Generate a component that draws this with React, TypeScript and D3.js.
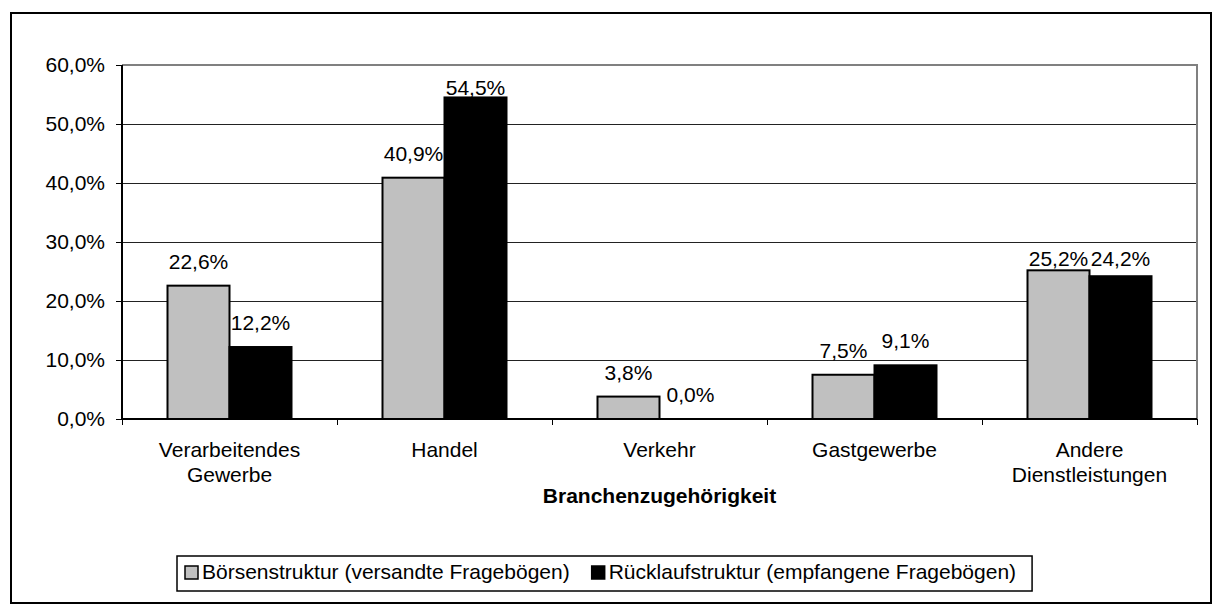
import React, { useRef, useEffect } from 'react';
import * as d3 from 'd3';

const categories = [['Verarbeitendes', 'Gewerbe'], ['Handel'], ['Verkehr'], ['Gastgewerbe'], ['Andere', 'Dienstleistungen']];
const versandt = [22.6, 40.9, 3.8, 7.5, 25.2];
const ruecklauf = [12.2, 54.5, 0.0, 9.1, 24.2];
const seriesNames = ['Börsenstruktur (versandte Fragebögen)', 'Rücklaufstruktur (empfangene Fragebögen)'];
const seriesColors = ['#c0c0c0', '#000000'];
const yTicks = [0, 10, 20, 30, 40, 50, 60];
const axisTitle = 'Branchenzugehörigkeit';

const W = 1218;
const H = 608;
const FONT = 'Liberation Sans, Arial, sans-serif';

const fmt = (v: number) => v.toFixed(1).replace('.', ',') + '%';

const App = () => {
  const svgRef = useRef<SVGSVGElement>(null);

  useEffect(() => {
    const svg = d3.select(svgRef.current);
    svg.selectAll('*').remove();

    const left = 122, right = 1197, top = 65, bottom = 419;

    // outer frame
    svg.append('rect')
      .attr('x', 11).attr('y', 13).attr('width', 1200).attr('height', 590)
      .attr('fill', 'white').attr('stroke', '#000').attr('stroke-width', 2);

    const x = d3.scaleBand<number>()
      .domain(categories.map((_, i) => i))
      .range([left, right]);
    const groupW = 124;
    const sub = d3.scaleBand<number>().domain([0, 1]).range([0, groupW]);
    const y = d3.scaleLinear().domain([0, 60]).range([bottom, top]);

    // gridlines
    svg.append('g').selectAll('line')
      .data(yTicks.filter(t => t > 0 && t < 60))
      .enter().append('line')
      .attr('x1', left).attr('x2', right)
      .attr('y1', d => Math.round(y(d)) + 0.5).attr('y2', d => Math.round(y(d)) + 0.5)
      .attr('stroke', '#222').attr('stroke-width', 1);

    // plot area border (top / right gray)
    svg.append('path')
      .attr('d', `M${left},${top}H${right}V${bottom}`)
      .attr('fill', 'none').attr('stroke', '#808080').attr('stroke-width', 2);

    // bars
    const series = [versandt, ruecklauf];
    series.forEach((vals, s) => {
      svg.append('g').selectAll('rect')
        .data(vals)
        .enter().append('rect')
        .attr('x', (d, i) => (x(i) as number) + (x.bandwidth() - groupW) / 2 + (sub(s) as number))
        .attr('y', d => y(d))
        .attr('width', sub.bandwidth())
        .attr('height', d => bottom - y(d))
        .attr('fill', seriesColors[s])
        .attr('stroke', '#000')
        .attr('stroke-width', d => (d > 0 ? 2 : 0));
    });

    // data labels
    series.forEach((vals, s) => {
      svg.append('g').selectAll('text')
        .data(vals)
        .enter().append('text')
        .attr('x', (d, i) => (x(i) as number) + (x.bandwidth() - groupW) / 2 + (sub(s) as number) + sub.bandwidth() / 2)
        .attr('y', (d, i) => {
          if (i === categories.length - 1) return Math.min(y(versandt[i]), y(ruecklauf[i])) - 4;
          let b = y(d) - 17;
          if (b < top + 28) b = y(d) - 2;
          return b;
        })
        .attr('text-anchor', 'middle')
        .attr('font-family', FONT).attr('font-size', 21)
        .text(d => fmt(d));
    });

    // y axis
    svg.append('line')
      .attr('x1', left).attr('x2', left).attr('y1', top).attr('y2', bottom)
      .attr('stroke', '#000').attr('stroke-width', 2);
    const yt = svg.append('g').selectAll('g').data(yTicks).enter().append('g');
    yt.append('line')
      .attr('x1', left - 6).attr('x2', left)
      .attr('y1', d => Math.round(y(d)) + 0.5).attr('y2', d => Math.round(y(d)) + 0.5)
      .attr('stroke', '#000').attr('stroke-width', 1);
    yt.append('text')
      .attr('x', 105).attr('y', d => y(d) + 7)
      .attr('text-anchor', 'end')
      .attr('font-family', FONT).attr('font-size', 21)
      .text(d => fmt(d));

    // x axis
    svg.append('line')
      .attr('x1', left).attr('x2', right).attr('y1', bottom).attr('y2', bottom)
      .attr('stroke', '#000').attr('stroke-width', 2);
    svg.append('g').selectAll('line')
      .data(d3.range(categories.length + 1))
      .enter().append('line')
      .attr('x1', i => Math.round(left + i * x.step()) + 0.5).attr('x2', i => Math.round(left + i * x.step()) + 0.5)
      .attr('y1', bottom).attr('y2', bottom + 6)
      .attr('stroke', '#000').attr('stroke-width', 1);

    const cl = svg.append('g').selectAll('text').data(categories).enter().append('text')
      .attr('text-anchor', 'middle')
      .attr('font-family', FONT).attr('font-size', 21);
    cl.each(function (lines, i) {
      const t = d3.select(this);
      lines.forEach((ln, k) => {
        t.append('tspan')
          .attr('x', (x(i) as number) + x.bandwidth() / 2)
          .attr('y', 457 + k * 24.5)
          .text(ln);
      });
    });

    svg.append('text')
      .attr('x', (left + right) / 2).attr('y', 503)
      .attr('text-anchor', 'middle')
      .attr('font-family', FONT).attr('font-size', 21).attr('font-weight', 'bold')
      .text(axisTitle);

    // legend
    const lg = svg.append('g');
    const box = lg.append('rect')
      .attr('y', 556).attr('height', 35)
      .attr('fill', 'white').attr('stroke', '#000').attr('stroke-width', 1.5);
    let cx = 185;
    seriesNames.forEach((name, s) => {
      lg.append('rect')
        .attr('x', cx).attr('y', 566).attr('width', 13).attr('height', 13)
        .attr('fill', seriesColors[s]).attr('stroke', '#000').attr('stroke-width', 1.5);
      const t = lg.append('text')
        .attr('x', cx + 17).attr('y', 579)
        .attr('font-family', FONT).attr('font-size', 21)
        .text(name);
      const w = (t.node() as SVGTextElement).getComputedTextLength();
      cx = cx + 17 + w + (s === 0 ? 22 : 16);
    });
    box.attr('x', 177).attr('width', cx - 177);
  }, []);

  return (
    <svg ref={svgRef} width={W} height={H}
      style={{ position: 'absolute', left: 0, top: 0, background: 'white' }} />
  );
};

export default App;
